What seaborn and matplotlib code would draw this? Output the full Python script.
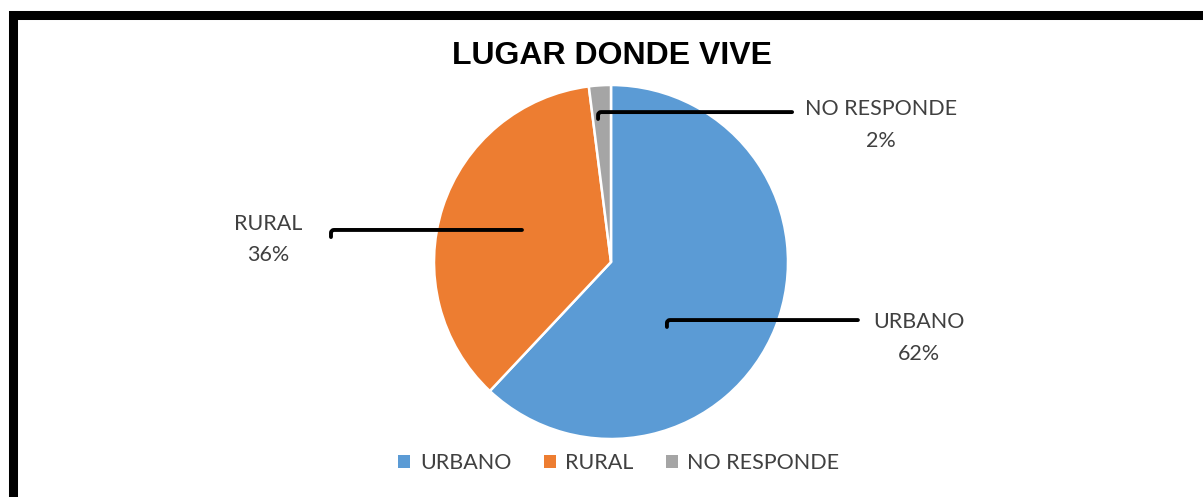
"""
Pie chart: lugar donde vive (urbano / rural / no responde).
"""
import matplotlib

matplotlib.use("Agg")
import matplotlib.pyplot as plt
import seaborn as sns
from matplotlib.lines import Line2D
from matplotlib.patches import Patch

categories = ["URBANO", "RURAL", "NO RESPONDE"]
shares = [62, 36, 2]
title = "LUGAR DONDE VIVE"

sns.set_theme(style="white")
plt.rcParams["font.family"] = ["Lato", "DejaVu Sans"]

colors = sns.color_palette(["#5B9BD5", "#ED7D31", "#A5A5A5"])
text_color = "#404040"

W, H, DPI = 1203, 497, 100
fig = plt.figure(figsize=(W / DPI, H / DPI), dpi=DPI)

# pie axes: centre (611, 262) px, radius 177 px
cx, cy, r = 611, 262, 177
ax = fig.add_axes([(cx - r) / W, (H - cy - r) / H, 2 * r / W, 2 * r / H])
wedges, _ = ax.pie(
    shares,
    colors=colors,
    startangle=90,
    counterclock=False,
    radius=1,
    wedgeprops=dict(edgecolor="white", linewidth=1.8),
)
ax.set_xlim(-1, 1)
ax.set_ylim(-1, 1)
ax.set_aspect("equal")
ax.axis("off")

# leader lines (hook point, line end) and label centres, in pie units
leaders = {
    "URBANO": ((0.316, -0.367), (1.395, -0.328), (1.740, -0.430)),
    "RURAL": ((-1.582, 0.141), (-0.503, 0.181), (-1.938, 0.128)),
    "NO RESPONDE": ((-0.073, 0.808), (1.023, 0.847), (1.525, 0.775)),
}
for cat, val in zip(categories, shares):
    hook, end, txt = leaders[cat]
    ax.annotate(
        "",
        xy=hook,
        xytext=end,
        annotation_clip=False,
        arrowprops=dict(
            arrowstyle="-",
            color="black",
            lw=2.8,
            shrinkA=0,
            shrinkB=0,
            connectionstyle="angle,angleA=0,angleB=90,rad=3",
        ),
    )
    ax.text(
        txt[0], txt[1], f"{cat}\n{val}%",
        ha="center", va="center", fontsize=15.5, color=text_color,
        linespacing=1.72, clip_on=False,
    )

fig.text(612 / W, 1 - 56 / H, title, ha="center", va="center",
         fontsize=23, fontweight="bold", color="black",
         family=["Liberation Sans", "DejaVu Sans"])

handles = [Patch(facecolor=c, edgecolor="none") for c in colors]
fig.legend(
    handles, categories,
    loc="center", bbox_to_anchor=(619 / W, 1 - 463 / H),
    ncol=3, frameon=False, fontsize=15.5,
    handlelength=0.55, handleheight=0.55, handletextpad=0.45,
    columnspacing=1.5, labelcolor=text_color,
)

# thick frame visible on top and left
fig.add_artist(Line2D(
    [12.5 / W, 12.5 / W, 1.0], [0.0, 1 - 14.5 / H, 1 - 14.5 / H],
    transform=fig.transFigure, color="black", lw=6.5,
    solid_joinstyle="miter", solid_capstyle="butt",
))

fig.savefig("out.png", dpi=DPI)
plt.close(fig)
